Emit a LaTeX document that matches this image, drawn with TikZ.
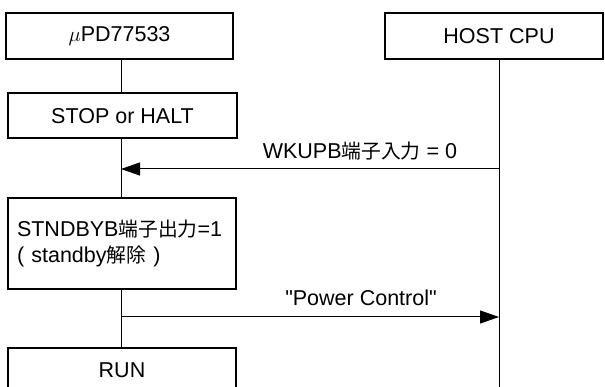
\documentclass[tikz,border=0pt]{standalone}
\usepackage{fontspec}
\setmainfont{Liberation Sans}
\newfontfamily\qfont{Liberation Sans}[Ligatures=TeXOff]
\newfontfamily\cjk{Noto Sans CJK JP}[Scale=0.92]
\usetikzlibrary{arrows.meta}
\begin{document}
\begin{tikzpicture}[x=1pt,y=-1pt,
  box/.style={draw,line width=2pt,rectangle,inner sep=0pt,font=\fontsize{21.5}{26}\selectfont},
  life/.style={line width=1pt},
  msg/.style={line width=1pt,-{Triangle[length=19pt,width=13pt]}},
  lbl/.style={font=\fontsize{21.5}{26}\selectfont,inner sep=0pt}]
\useasboundingbox (0,0) rectangle (605,387);
\clip (0,0) rectangle (605,387);
\coordinate (L) at (121,0);
\coordinate (R) at (499,0);
\coordinate (Lend) at (121,387);
\coordinate (Rend) at (499,387);
% boxes
\node[box,minimum width=227pt,minimum height=46pt] (mu) at (119.5,36) {$\mu$PD77533};
\node[box,minimum width=218pt,minimum height=46pt] (host) at (494,36) {};
\node[lbl] (hostt) at (499,36) {HOST CPU};
\node[box,minimum width=229pt,minimum height=45pt] (stop) at (122.5,116) {STOP or HALT};
\node[box,minimum width=228pt,minimum height=91pt,text width=210pt,inner xsep=9pt,align=left] (stnd) at (122,243.5)
  {\raisebox{-3pt}{STNDBYB{\cjk 端子出力}=1}\\\raisebox{-3pt}{( standby{\cjk 解除} )}};
\node[box,minimum width=228pt,minimum height=50pt,anchor=north] (run) at (122,347) {};
\node[lbl] (runt) at (122,370) {RUN};
% lifelines
\draw[life] (mu.south -| L) -- (stop.north -| L);
\draw[life] (stop.south -| L) -- (stnd.north -| L);
\draw[life] (stnd.south -| L) -- (run.north -| L);
\draw[life] (host.south -| R) -- (Rend);
% messages
\coordinate (w1) at (499,169);
\coordinate (w0) at (121,169);
\draw[msg] (w1) -- (w0);
\node[lbl] (wl) at (360,151) {WKUPB{\cjk 端子入力} = 0};
\coordinate (p0) at (121,317);
\coordinate (p1) at (499,317);
\draw[msg] (p0) -- (p1);
\node[lbl] (pl) at (361,298) {{\qfont "Power Control"}};
\end{tikzpicture}
\end{document}
